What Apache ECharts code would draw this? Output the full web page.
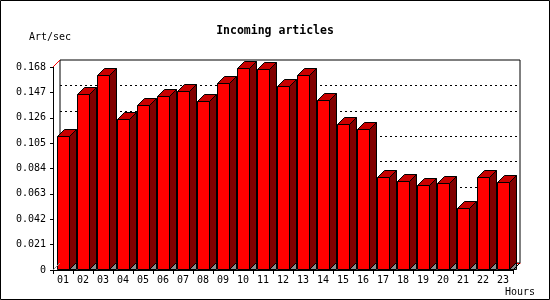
<!DOCTYPE html>
<html>
<head>
<meta charset="utf-8">
<script src="https://cdn.jsdelivr.net/npm/echarts@6/dist/echarts.min.js"></script>
<style>
html,body{margin:0;padding:0;background:#fff;}
#c{width:550px;height:300px;}
</style>
</head>
<body>
<div id="c"></div>
<script>
// ---- data ----
const hours = ['01','02','03','04','05','06','07','08','09','10','11','12','13','14','15','16','17','18','19','20','21','22','23'];
const artPerSec = [0.1113,0.1459,0.1617,0.1251,0.1368,0.1442,0.1484,0.1401,0.1550,0.1675,0.1667,0.1526,0.1617,0.1409,0.1210,0.1168,0.0770,0.0733,0.0703,0.0720,0.0512,0.0770,0.0728];
const yMin = 0, yMax = 0.168, yStep = 0.021;

// ---- layout ----
const W = 550, H = 300;
const GL = 53, GT = 67, GR = 37, GB = 30, D = 7;
const MONO = '"DejaVu Sans Mono", "Liberation Mono", monospace';

const chart = echarts.init(document.getElementById('c'), null, {renderer: 'canvas'});

function renderBar(params, api) {
  const idx = api.value(0), v = api.value(1);
  const top = api.coord([idx, v]);
  const base = api.coord([idx, 0]);
  const bw = api.size([1, 0])[0];
  const xl = Math.round(base[0] - bw / 2 + 4) + 0.5;
  const xr = xl + 12;
  const yt = Math.round(top[1]) + 0.5;
  const yb = Math.round(base[1]) - 0.5;
  const stroke = {stroke: '#000', lineWidth: 1};
  return {
    type: 'group',
    children: [
      {type: 'polygon', shape: {points: [[xr, yb], [xr + D, yb - D], [xr + D, yb]]},
       style: {fill: '#8c8c8c', stroke: '#000', lineWidth: 1}},
      {type: 'polygon', shape: {points: [[xr, yt], [xr + D, yt - D], [xr + D, yb - D], [xr, yb]]},
       style: Object.assign({fill: '#800000'}, stroke)},
      {type: 'polygon', shape: {points: [[xl, yt], [xl + D, yt - D], [xr + D, yt - D], [xr, yt]]},
       style: Object.assign({fill: '#c80000'}, stroke)},
      {type: 'rect', shape: {x: xl, y: yt, width: xr - xl, height: yb - yt},
       style: Object.assign({fill: '#ff0000'}, stroke)}
    ]
  };
}

const yAxisCommon = {type: 'value', min: yMin, max: yMax, interval: yStep};

const option = {
  backgroundColor: '#fff',
  animation: false,
  title: {
    text: 'Incoming articles', left: 'center', top: 20,
    textStyle: {fontFamily: MONO, fontSize: 11.5, fontWeight: 'bold', color: '#000'}
  },
  grid: [
    {left: GL, top: GT, right: GR, bottom: GB, show: false},
    {left: GL + D, top: GT - D, right: GR - D, bottom: GB + D, show: true,
     borderColor: '#000', borderWidth: 1, backgroundColor: 'transparent', z: 0}
  ],
  xAxis: [
    {type: 'category', gridIndex: 0, data: hours, boundaryGap: true,
     axisLine: {show: true, lineStyle: {color: '#000', width: 1}},
     axisTick: {show: true, length: 4, inside: false, lineStyle: {color: '#000'}},
     axisLabel: {fontFamily: MONO, fontSize: 10, color: '#000', margin: 5, interval: 0},
     splitLine: {show: false}},
    {type: 'category', gridIndex: 1, data: hours, position: 'top',
     axisLine: {show: true, lineStyle: {color: '#ff0000', width: 1}},
     axisTick: {show: false}, axisLabel: {show: false}, splitLine: {show: false}}
  ],
  yAxis: [
    Object.assign({gridIndex: 0,
     axisLine: {show: true, lineStyle: {color: '#000', width: 1}},
     axisTick: {show: true, length: 3, inside: false, lineStyle: {color: '#000'}},
     axisLabel: {fontFamily: MONO, fontSize: 10, color: '#000', margin: 7,
                 formatter: v => (Math.abs(v) < 1e-9 ? '0' : v.toFixed(3))},
     splitLine: {show: false}}, yAxisCommon),
    Object.assign({gridIndex: 1,
     axisLine: {show: false}, axisTick: {show: false}, axisLabel: {show: false},
     splitLine: {show: true, showMinLine: false, showMaxLine: false,
                 lineStyle: {color: '#000', width: 1, type: [2, 3]}}}, yAxisCommon)
  ],
  graphic: [
    {type: 'rect', silent: true, z: 100,
     shape: {x: 0.5, y: 0.5, width: W - 1, height: H - 1},
     style: {fill: 'none', stroke: '#000', lineWidth: 1}},
    {type: 'line', silent: true, z: 5,
     shape: {x1: GL, y1: GT, x2: GL + D, y2: GT - D},
     style: {stroke: '#ff0000', lineWidth: 1}},
    {type: 'line', silent: true, z: 5,
     shape: {x1: GL, y1: H - GB, x2: GL + D, y2: H - GB - D},
     style: {stroke: '#999', lineWidth: 1}},
    {type: 'line', silent: true, z: 5,
     shape: {x1: W - GR, y1: H - GB, x2: W - GR + D, y2: H - GB - D},
     style: {stroke: '#000', lineWidth: 1}},
    {type: 'text', silent: true, left: 29, top: 32,
     style: {text: 'Art/sec', fontFamily: MONO, fontSize: 10, fill: '#000'}},
    {type: 'text', silent: true, left: 505, top: 287,
     style: {text: 'Hours', fontFamily: MONO, fontSize: 10, fill: '#000'}}
  ],
  series: [{
    type: 'custom', xAxisIndex: 0, yAxisIndex: 0, z: 3,
    renderItem: renderBar,
    encode: {x: 0, y: 1},
    clip: false,
    data: artPerSec.map((v, i) => [i, v])
  }]
};
chart.setOption(option);
</script>
</body>
</html>
